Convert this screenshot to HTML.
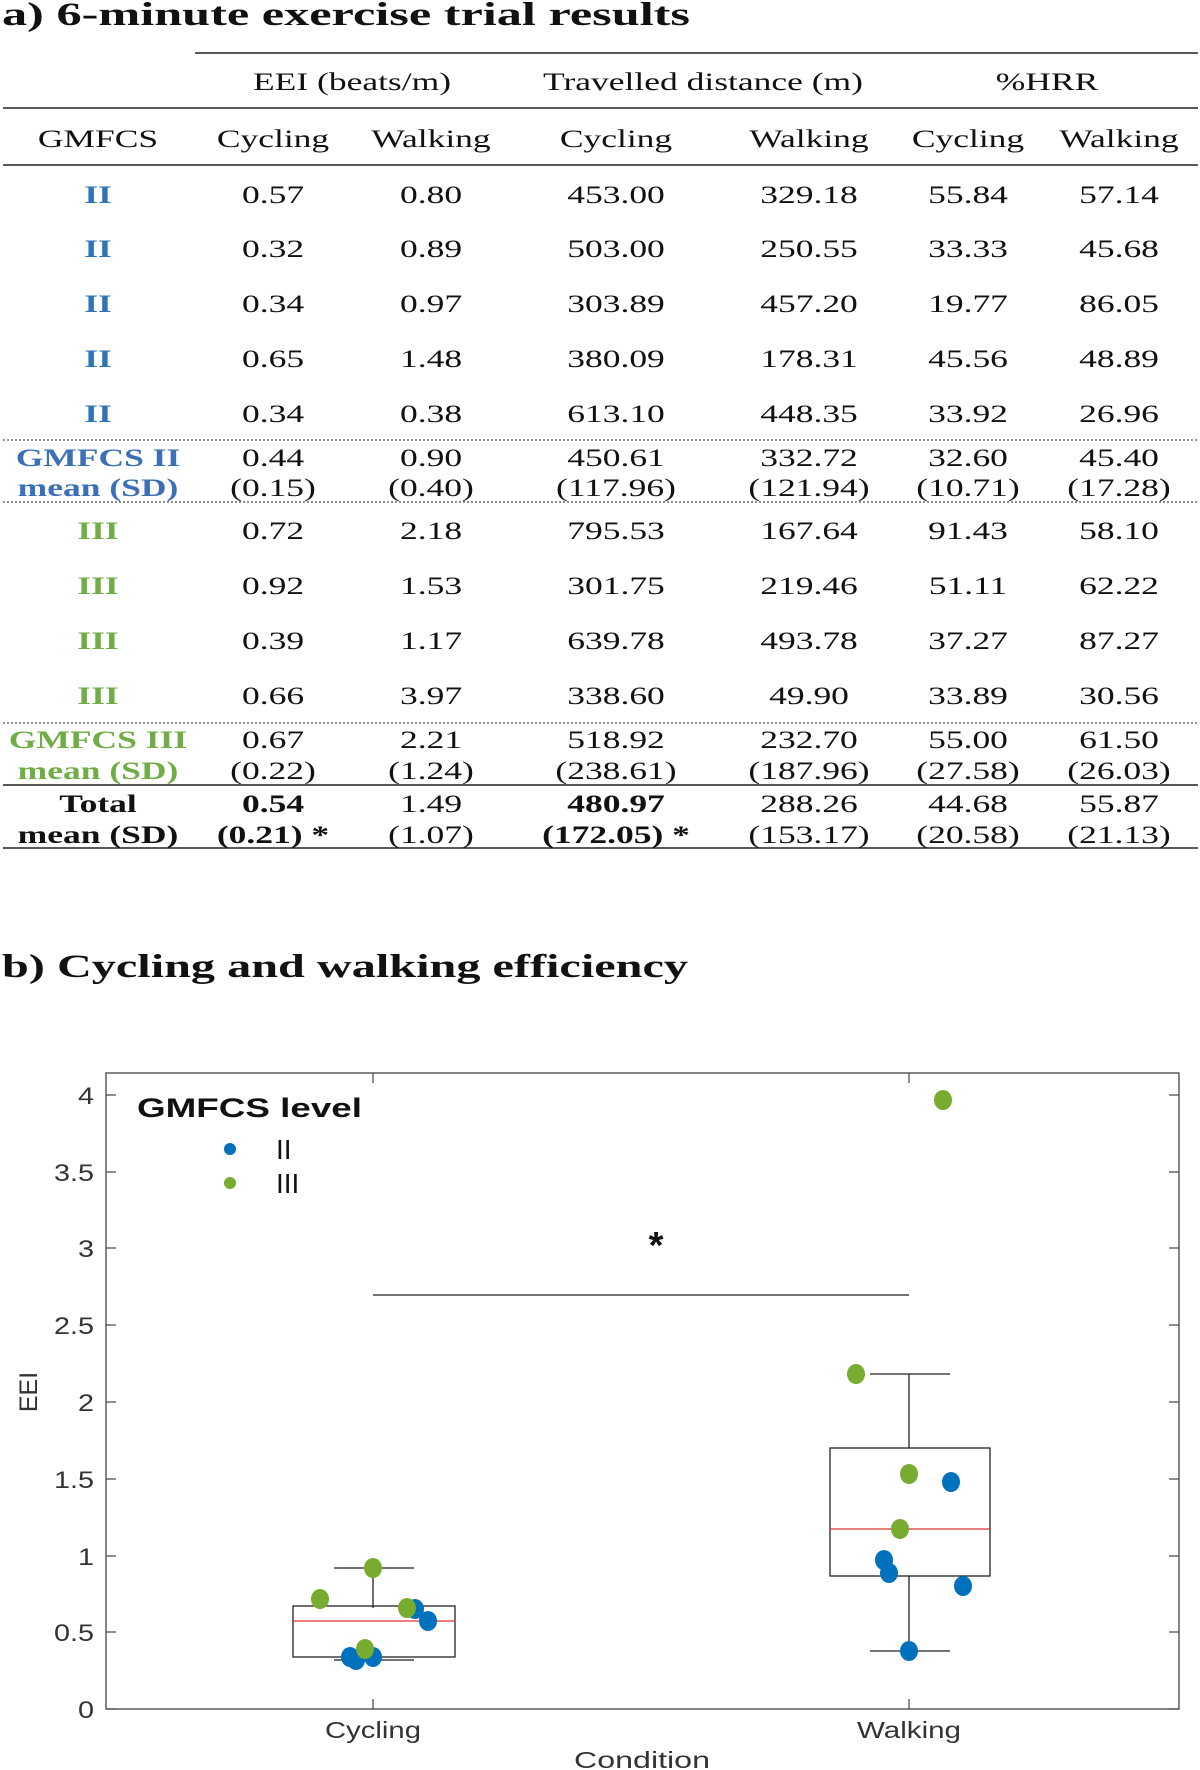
<!DOCTYPE html>
<html><head><meta charset="utf-8"><style>
html,body{margin:0;padding:0;background:#fff;}
svg{display:block;}
.t{font-family:"Liberation Serif",serif;font-size:25px;fill:#111;}
.c{font-family:"Liberation Sans",sans-serif;fill:#333;}
</style></head><body>
<svg width="1200" height="1770" viewBox="0 0 1200 1770" xmlns="http://www.w3.org/2000/svg">
<rect width="1200" height="1770" fill="#fff"/>
<text x="2" y="25" font-family="Liberation Serif,serif" font-weight="bold" font-size="33" textLength="688" lengthAdjust="spacingAndGlyphs" fill="#111">a) 6-minute exercise trial results</text>
<g stroke="#222">
<line x1="195" y1="53" x2="1198" y2="53" stroke-width="1.5"/>
<line x1="3" y1="108" x2="1198" y2="108" stroke-width="1.5"/>
<line x1="3" y1="165" x2="1198" y2="165" stroke-width="1.5"/>
<line x1="3" y1="440" x2="1198" y2="440" stroke-width="1" stroke-dasharray="2,2"/>
<line x1="3" y1="502" x2="1198" y2="502" stroke-width="1" stroke-dasharray="2,2"/>
<line x1="3" y1="723" x2="1198" y2="723" stroke-width="1" stroke-dasharray="2,2"/>
<line x1="3" y1="785" x2="1198" y2="785" stroke-width="1.5"/>
<line x1="3" y1="848" x2="1198" y2="848" stroke-width="1.5"/>
</g>
<g class="t" text-anchor="middle">
<g transform="translate(0,90)"><text transform="translate(352,0) scale(1.42 1)">EEI (beats/m)</text><text transform="translate(703,0) scale(1.42 1)">Travelled distance (m)</text><text transform="translate(1047,0) scale(1.42 1)">%HRR</text></g>
<g transform="translate(0,147)"><text transform="translate(98,0) scale(1.42 1)">GMFCS</text><text transform="translate(273,0) scale(1.42 1)">Cycling</text><text transform="translate(431,0) scale(1.42 1)">Walking</text><text transform="translate(616,0) scale(1.42 1)">Cycling</text><text transform="translate(809,0) scale(1.42 1)">Walking</text><text transform="translate(968,0) scale(1.42 1)">Cycling</text><text transform="translate(1119,0) scale(1.42 1)">Walking</text></g>

<g transform="translate(0,203)"><text transform="translate(98,0) scale(1.42 1)" fill="#2e75b6" font-weight="bold">II</text><text transform="translate(273,0) scale(1.42 1)">0.57</text><text transform="translate(431,0) scale(1.42 1)">0.80</text><text transform="translate(616,0) scale(1.42 1)">453.00</text><text transform="translate(809,0) scale(1.42 1)">329.18</text><text transform="translate(968,0) scale(1.42 1)">55.84</text><text transform="translate(1119,0) scale(1.42 1)">57.14</text></g>
<g transform="translate(0,257)"><text transform="translate(98,0) scale(1.42 1)" fill="#2e75b6" font-weight="bold">II</text><text transform="translate(273,0) scale(1.42 1)">0.32</text><text transform="translate(431,0) scale(1.42 1)">0.89</text><text transform="translate(616,0) scale(1.42 1)">503.00</text><text transform="translate(809,0) scale(1.42 1)">250.55</text><text transform="translate(968,0) scale(1.42 1)">33.33</text><text transform="translate(1119,0) scale(1.42 1)">45.68</text></g>
<g transform="translate(0,312)"><text transform="translate(98,0) scale(1.42 1)" fill="#2e75b6" font-weight="bold">II</text><text transform="translate(273,0) scale(1.42 1)">0.34</text><text transform="translate(431,0) scale(1.42 1)">0.97</text><text transform="translate(616,0) scale(1.42 1)">303.89</text><text transform="translate(809,0) scale(1.42 1)">457.20</text><text transform="translate(968,0) scale(1.42 1)">19.77</text><text transform="translate(1119,0) scale(1.42 1)">86.05</text></g>
<g transform="translate(0,367)"><text transform="translate(98,0) scale(1.42 1)" fill="#2e75b6" font-weight="bold">II</text><text transform="translate(273,0) scale(1.42 1)">0.65</text><text transform="translate(431,0) scale(1.42 1)">1.48</text><text transform="translate(616,0) scale(1.42 1)">380.09</text><text transform="translate(809,0) scale(1.42 1)">178.31</text><text transform="translate(968,0) scale(1.42 1)">45.56</text><text transform="translate(1119,0) scale(1.42 1)">48.89</text></g>
<g transform="translate(0,422)"><text transform="translate(98,0) scale(1.42 1)" fill="#2e75b6" font-weight="bold">II</text><text transform="translate(273,0) scale(1.42 1)">0.34</text><text transform="translate(431,0) scale(1.42 1)">0.38</text><text transform="translate(616,0) scale(1.42 1)">613.10</text><text transform="translate(809,0) scale(1.42 1)">448.35</text><text transform="translate(968,0) scale(1.42 1)">33.92</text><text transform="translate(1119,0) scale(1.42 1)">26.96</text></g>

<g transform="translate(0,466)"><text transform="translate(98,0) scale(1.42 1)" fill="#3b6fb6" font-weight="bold">GMFCS II</text><text transform="translate(273,0) scale(1.42 1)">0.44</text><text transform="translate(431,0) scale(1.42 1)">0.90</text><text transform="translate(616,0) scale(1.42 1)">450.61</text><text transform="translate(809,0) scale(1.42 1)">332.72</text><text transform="translate(968,0) scale(1.42 1)">32.60</text><text transform="translate(1119,0) scale(1.42 1)">45.40</text></g>
<g transform="translate(0,496)"><text transform="translate(98,0) scale(1.42 1)" fill="#3b6fb6" font-weight="bold">mean (SD)</text><text transform="translate(273,0) scale(1.42 1)">(0.15)</text><text transform="translate(431,0) scale(1.42 1)">(0.40)</text><text transform="translate(616,0) scale(1.42 1)">(117.96)</text><text transform="translate(809,0) scale(1.42 1)">(121.94)</text><text transform="translate(968,0) scale(1.42 1)">(10.71)</text><text transform="translate(1119,0) scale(1.42 1)">(17.28)</text></g>

<g transform="translate(0,539)"><text transform="translate(98,0) scale(1.42 1)" fill="#70ad47" font-weight="bold">III</text><text transform="translate(273,0) scale(1.42 1)">0.72</text><text transform="translate(431,0) scale(1.42 1)">2.18</text><text transform="translate(616,0) scale(1.42 1)">795.53</text><text transform="translate(809,0) scale(1.42 1)">167.64</text><text transform="translate(968,0) scale(1.42 1)">91.43</text><text transform="translate(1119,0) scale(1.42 1)">58.10</text></g>
<g transform="translate(0,594)"><text transform="translate(98,0) scale(1.42 1)" fill="#70ad47" font-weight="bold">III</text><text transform="translate(273,0) scale(1.42 1)">0.92</text><text transform="translate(431,0) scale(1.42 1)">1.53</text><text transform="translate(616,0) scale(1.42 1)">301.75</text><text transform="translate(809,0) scale(1.42 1)">219.46</text><text transform="translate(968,0) scale(1.42 1)">51.11</text><text transform="translate(1119,0) scale(1.42 1)">62.22</text></g>
<g transform="translate(0,649)"><text transform="translate(98,0) scale(1.42 1)" fill="#70ad47" font-weight="bold">III</text><text transform="translate(273,0) scale(1.42 1)">0.39</text><text transform="translate(431,0) scale(1.42 1)">1.17</text><text transform="translate(616,0) scale(1.42 1)">639.78</text><text transform="translate(809,0) scale(1.42 1)">493.78</text><text transform="translate(968,0) scale(1.42 1)">37.27</text><text transform="translate(1119,0) scale(1.42 1)">87.27</text></g>
<g transform="translate(0,704)"><text transform="translate(98,0) scale(1.42 1)" fill="#70ad47" font-weight="bold">III</text><text transform="translate(273,0) scale(1.42 1)">0.66</text><text transform="translate(431,0) scale(1.42 1)">3.97</text><text transform="translate(616,0) scale(1.42 1)">338.60</text><text transform="translate(809,0) scale(1.42 1)">49.90</text><text transform="translate(968,0) scale(1.42 1)">33.89</text><text transform="translate(1119,0) scale(1.42 1)">30.56</text></g>

<g transform="translate(0,748)"><text transform="translate(98,0) scale(1.42 1)" fill="#70ad47" font-weight="bold">GMFCS III</text><text transform="translate(273,0) scale(1.42 1)">0.67</text><text transform="translate(431,0) scale(1.42 1)">2.21</text><text transform="translate(616,0) scale(1.42 1)">518.92</text><text transform="translate(809,0) scale(1.42 1)">232.70</text><text transform="translate(968,0) scale(1.42 1)">55.00</text><text transform="translate(1119,0) scale(1.42 1)">61.50</text></g>
<g transform="translate(0,779)"><text transform="translate(98,0) scale(1.42 1)" fill="#70ad47" font-weight="bold">mean (SD)</text><text transform="translate(273,0) scale(1.42 1)">(0.22)</text><text transform="translate(431,0) scale(1.42 1)">(1.24)</text><text transform="translate(616,0) scale(1.42 1)">(238.61)</text><text transform="translate(809,0) scale(1.42 1)">(187.96)</text><text transform="translate(968,0) scale(1.42 1)">(27.58)</text><text transform="translate(1119,0) scale(1.42 1)">(26.03)</text></g>

<g transform="translate(0,812)"><text transform="translate(98,0) scale(1.42 1)" font-weight="bold">Total</text><text transform="translate(273,0) scale(1.42 1)" font-weight="bold">0.54</text><text transform="translate(431,0) scale(1.42 1)">1.49</text><text transform="translate(616,0) scale(1.42 1)" font-weight="bold">480.97</text><text transform="translate(809,0) scale(1.42 1)">288.26</text><text transform="translate(968,0) scale(1.42 1)">44.68</text><text transform="translate(1119,0) scale(1.42 1)">55.87</text></g>
<g transform="translate(0,843)"><text transform="translate(98,0) scale(1.42 1)" font-weight="bold">mean (SD)</text><text transform="translate(273,0) scale(1.42 1)" font-weight="bold">(0.21) *</text><text transform="translate(431,0) scale(1.42 1)">(1.07)</text><text transform="translate(616,0) scale(1.42 1)" font-weight="bold">(172.05) *</text><text transform="translate(809,0) scale(1.42 1)">(153.17)</text><text transform="translate(968,0) scale(1.42 1)">(20.58)</text><text transform="translate(1119,0) scale(1.42 1)">(21.13)</text></g>
</g>

<text x="2" y="977" font-family="Liberation Serif,serif" font-weight="bold" font-size="33" textLength="686" lengthAdjust="spacingAndGlyphs" fill="#111">b) Cycling and walking efficiency</text>

<!-- chart -->
<rect x="106" y="1073" width="1073" height="636" fill="none" stroke="#444" stroke-width="1.3"/>
<g stroke="#444" stroke-width="1.2">
<line x1="106" y1="1709" x2="116" y2="1709"/><line x1="1179" y1="1709" x2="1169" y2="1709"/>
<line x1="106" y1="1632" x2="116" y2="1632"/><line x1="1179" y1="1632" x2="1169" y2="1632"/>
<line x1="106" y1="1556" x2="116" y2="1556"/><line x1="1179" y1="1556" x2="1169" y2="1556"/>
<line x1="106" y1="1479" x2="116" y2="1479"/><line x1="1179" y1="1479" x2="1169" y2="1479"/>
<line x1="106" y1="1402" x2="116" y2="1402"/><line x1="1179" y1="1402" x2="1169" y2="1402"/>
<line x1="106" y1="1325" x2="116" y2="1325"/><line x1="1179" y1="1325" x2="1169" y2="1325"/>
<line x1="106" y1="1248" x2="116" y2="1248"/><line x1="1179" y1="1248" x2="1169" y2="1248"/>
<line x1="106" y1="1172" x2="116" y2="1172"/><line x1="1179" y1="1172" x2="1169" y2="1172"/>
<line x1="106" y1="1095" x2="116" y2="1095"/><line x1="1179" y1="1095" x2="1169" y2="1095"/>
<line x1="373" y1="1709" x2="373" y2="1699"/><line x1="373" y1="1073" x2="373" y2="1083"/>
<line x1="909" y1="1709" x2="909" y2="1699"/><line x1="909" y1="1073" x2="909" y2="1083"/>
</g>
<g class="c" font-size="24" text-anchor="end">
<text transform="translate(94,1718) scale(1.2 1)">0</text>
<text transform="translate(94,1641) scale(1.2 1)">0.5</text>
<text transform="translate(94,1565) scale(1.2 1)">1</text>
<text transform="translate(94,1488) scale(1.2 1)">1.5</text>
<text transform="translate(94,1411) scale(1.2 1)">2</text>
<text transform="translate(94,1334) scale(1.2 1)">2.5</text>
<text transform="translate(94,1257) scale(1.2 1)">3</text>
<text transform="translate(94,1181) scale(1.2 1)">3.5</text>
<text transform="translate(94,1104) scale(1.2 1)">4</text>
</g>
<g class="c" font-size="23" text-anchor="middle">
<text x="373" y="1738" textLength="96" lengthAdjust="spacingAndGlyphs">Cycling</text>
<text x="909" y="1738" textLength="104" lengthAdjust="spacingAndGlyphs">Walking</text>
<text x="642" y="1768" textLength="136" lengthAdjust="spacingAndGlyphs">Condition</text>
<text transform="translate(37,1392) rotate(-90)" font-size="25">EEI</text>
</g>
<!-- legend -->
<text x="137" y="1117" font-family="Liberation Sans,sans-serif" font-weight="bold" font-size="27" textLength="225" lengthAdjust="spacingAndGlyphs" fill="#111">GMFCS level</text>
<ellipse cx="230" cy="1149" rx="6" ry="6" fill="#0072bd"/>
<ellipse cx="230" cy="1183" rx="6" ry="6" fill="#77ac30"/>
<text x="276" y="1159" font-family="Liberation Sans,sans-serif" font-size="28" fill="#111">II</text>
<text x="276" y="1193" font-family="Liberation Sans,sans-serif" font-size="28" fill="#111">III</text>
<!-- significance -->
<text x="656" y="1258" text-anchor="middle" font-family="Liberation Sans,sans-serif" font-weight="bold" font-size="38" fill="#111">*</text>
<line x1="373" y1="1295" x2="909" y2="1295" stroke="#444" stroke-width="1.5"/>
<!-- boxes -->
<g stroke="#222" stroke-width="1.3" fill="none">
<line x1="373" y1="1568" x2="373" y2="1608"/>
<line x1="334" y1="1568" x2="414" y2="1568"/>
<rect x="293" y="1606" width="162" height="51"/>
<line x1="334" y1="1660" x2="414" y2="1660"/>
<line x1="909" y1="1374" x2="909" y2="1448"/>
<line x1="870" y1="1374" x2="950" y2="1374"/>
<rect x="830" y="1448" width="160" height="128"/>
<line x1="909" y1="1576" x2="909" y2="1651"/>
<line x1="870" y1="1651" x2="950" y2="1651"/>
</g>
<line x1="293" y1="1621" x2="455" y2="1621" stroke="#e03030" stroke-width="1.2"/>
<line x1="830" y1="1529" x2="990" y2="1529" stroke="#e03030" stroke-width="1.2"/>
<!-- points -->
<g fill="#0072bd">
<ellipse cx="415" cy="1609" rx="9" ry="10"/>
<ellipse cx="428" cy="1621" rx="9" ry="10"/>
<ellipse cx="373" cy="1657" rx="9" ry="10"/>
<ellipse cx="350" cy="1657" rx="9" ry="10"/>
<ellipse cx="356" cy="1660" rx="9" ry="10"/>
<ellipse cx="951" cy="1482" rx="9" ry="10"/>
<ellipse cx="884" cy="1560" rx="9" ry="10"/>
<ellipse cx="889" cy="1573" rx="9" ry="10"/>
<ellipse cx="963" cy="1586" rx="9" ry="10"/>
<ellipse cx="909" cy="1651" rx="9" ry="10"/>
</g>
<g fill="#77ac30">
<ellipse cx="320" cy="1599" rx="9" ry="10"/>
<ellipse cx="373" cy="1568" rx="9" ry="10"/>
<ellipse cx="407" cy="1608" rx="9" ry="10"/>
<ellipse cx="365" cy="1649" rx="9" ry="10"/>
<ellipse cx="943" cy="1100" rx="9" ry="10"/>
<ellipse cx="856" cy="1374" rx="9" ry="10"/>
<ellipse cx="909" cy="1474" rx="9" ry="10"/>
<ellipse cx="900" cy="1529" rx="9" ry="10"/>
</g>
</svg>
</body></html>
